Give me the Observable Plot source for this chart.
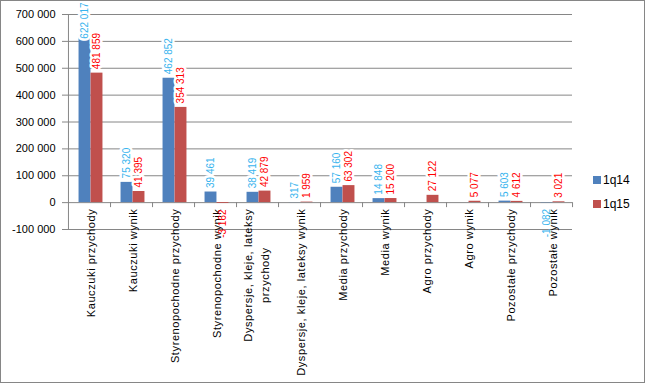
<!DOCTYPE html>
<html><head><meta charset="utf-8">
<script src="https://cdn.jsdelivr.net/npm/d3@7"></script>
<script src="https://cdn.jsdelivr.net/npm/@observablehq/plot@0.6"></script>
<style>
body{margin:0;background:#fff;}
#wrap{position:relative;width:645px;height:383px;font-family:"Liberation Sans",Arial,sans-serif;overflow:hidden;}
#chart{position:absolute;left:0;top:0;}
#chart g[font-size="11"] text{letter-spacing:0.6px;}
#border{position:absolute;left:0;top:0;width:645px;height:383px;box-sizing:border-box;border:1px solid #868686;pointer-events:none;}
#legend{position:absolute;left:593px;top:168px;font-size:12px;color:#000;}
.item{display:flex;align-items:center;height:24px;}
.sw{width:8px;height:8px;margin-right:2px;}
</style></head><body>
<div id="wrap"><div id="chart"></div><div id="legend"></div><div id="border"></div></div>
<script>
const categories = ["Kauczuki przychody","Kauczuki wynik","Styrenopochodne przychody","Styrenopochodne wynik","Dyspersje, kleje, lateksy przychody","Dyspersje, kleje, lateksy wynik","Media przychody","Media wynik","Agro przychody","Agro wynik","Pozostałe przychody","Pozostałe wynik"];
const catLine1 = ["Kauczuki przychody","Kauczuki wynik","Styrenopochodne przychody","Styrenopochodne wynik","Dyspersje, kleje, lateksy","Dyspersje, kleje, lateksy wynik","Media przychody","Media wynik","Agro przychody","Agro wynik","Pozostałe przychody","Pozostałe wynik"];
const catLine2 = ["","","","","przychody","","","","","","",""];
const series = ["1q14","1q15"];
const q14 = [622017, 75320, 462852, 39461, 38419, 317, 57160, 14848, null, null, 5603, -1082];
const q15 = [481859, 41395, 354313, -3162, 42879, 1959, 63302, 15200, 27122, 5077, 4612, 3021];
const barColors = ["#4f81bd","#c0504d"];
const labelColors = ["#38b4ee","#ff0000"];
const yTicks = [-100000,0,100000,200000,300000,400000,500000,600000,700000];

const W = 645, H = 383;
const plotLeft = 67, plotRight = 572, plotTop = 14, plotBottom = 229;
const band = (plotRight - plotLeft) / categories.length;
const barW = 12, shift = 1.5;
const ins = (band - barW) / 2;
const gridColor = "#868686";
const catSpacing = 0.6;

const fmt = d3.formatLocale({decimal: ",", thousands: "\u00a0", grouping: [3], currency: ["", ""], minus: "-"}).format(",d");

const values = [q14, q15];
const rows = [];
categories.forEach((c, i) => series.forEach((s, k) => {
  const v = values[k][i];
  if (v != null) rows.push({cat: c, series: s, k, value: v});
}));

const ctx = document.createElement("canvas").getContext("2d");
const measure = (t, size) => { ctx.font = size + "px 'Liberation Sans'"; return ctx.measureText(t).width; };

// keep value labels inside the chart area (like the original): clamp the label anchor
const yPix = d3.scaleLinear([-100000, 700000], [plotBottom, plotTop]);
const labelY = d => Math.min(d.value, yPix.invert(2 + measure(fmt(d.value), 10) + 4));

const marks = [
  Plot.gridY(yTicks, {stroke: gridColor, strokeOpacity: 1}),
  Plot.ruleX([categories[0]], {x: d => d, dx: -band / 2, stroke: gridColor}),
  Plot.ruleX(categories, {x: d => d, y1: () => 0, y2: () => 0, insetBottom: -5, dx: band / 2, stroke: gridColor}),
  Plot.axisY(yTicks, {label: null, tickFormat: fmt, tickSize: 5, tickPadding: 7, fontSize: "11px", stroke: gridColor, fill: "black"})
];

series.forEach((s, k) => {
  const data = rows.filter(d => d.k === k);
  const dx = (k === 0 ? -barW / 2 : barW / 2) + shift;
  marks.push(Plot.barY(data, {x: "cat", y: "value", fill: barColors[k], insetLeft: ins, insetRight: ins, dx}));
});
series.forEach((s, k) => {
  const data = rows.filter(d => d.k === k);
  const dx = (k === 0 ? -barW / 2 : barW / 2) + shift;
  marks.push(Plot.text(data.filter(d => d.value >= 0), {x: "cat", y: labelY, text: d => fmt(d.value), rotate: -90, textAnchor: "start", lineAnchor: "middle", dy: -4, dx, fontSize: "10px", fill: labelColors[k], stroke: "white", strokeWidth: 5, paintOrder: "stroke"}));
});

// category labels
const single = categories.filter((c, i) => !catLine2[i]);
marks.push(Plot.text(single, {x: d => d, y: () => 0, text: d => catLine1[categories.indexOf(d)], rotate: -90, textAnchor: "end", lineAnchor: "middle", dy: 6, dx: 2, fontSize: 11, fill: "black"}));
categories.forEach((c, i) => {
  if (!catLine2[i]) return;
  const w1 = measure(catLine1[i], 11) + catSpacing * catLine1[i].length;
  marks.push(Plot.text([c], {x: d => d, y: () => 0, text: () => catLine1[i], rotate: -90, textAnchor: "end", lineAnchor: "middle", dy: 6, dx: -9, fontSize: 11, fill: "black"}));
  marks.push(Plot.text([c], {x: d => d, y: () => 0, text: () => catLine2[i], rotate: -90, textAnchor: "middle", lineAnchor: "middle", dy: 6 + w1 / 2, dx: 8, fontSize: 11, fill: "black"}));
});

// negative value labels (drawn over the category labels)
series.forEach((s, k) => {
  const data = rows.filter(d => d.k === k && d.value < 0);
  const dx = (k === 0 ? -barW / 2 : barW / 2) + shift;
  marks.push(Plot.text(data, {x: "cat", y: "value", text: d => fmt(d.value), rotate: -90, textAnchor: "end", lineAnchor: "middle", dy: 6, dx, fontSize: "10px", fill: labelColors[k]}));
});

const chart = Plot.plot({
  width: W, height: H,
  marginLeft: plotLeft, marginRight: W - plotRight, marginTop: plotTop, marginBottom: H - plotBottom,
  style: {fontFamily: "'Liberation Sans', Arial, sans-serif", fontSize: "11px", background: "white", color: "black"},
  x: {type: "band", domain: categories, paddingInner: 0, paddingOuter: 0, axis: null},
  y: {domain: [-100000, 700000], axis: null},
  marks
});
document.getElementById("chart").appendChild(chart);

const legend = document.getElementById("legend");
series.forEach((s, k) => {
  const it = document.createElement("div"); it.className = "item";
  const sw = document.createElement("div"); sw.className = "sw"; sw.style.background = barColors[k];
  const tx = document.createElement("span"); tx.textContent = s;
  it.appendChild(sw); it.appendChild(tx); legend.appendChild(it);
});
</script>
</body></html>
